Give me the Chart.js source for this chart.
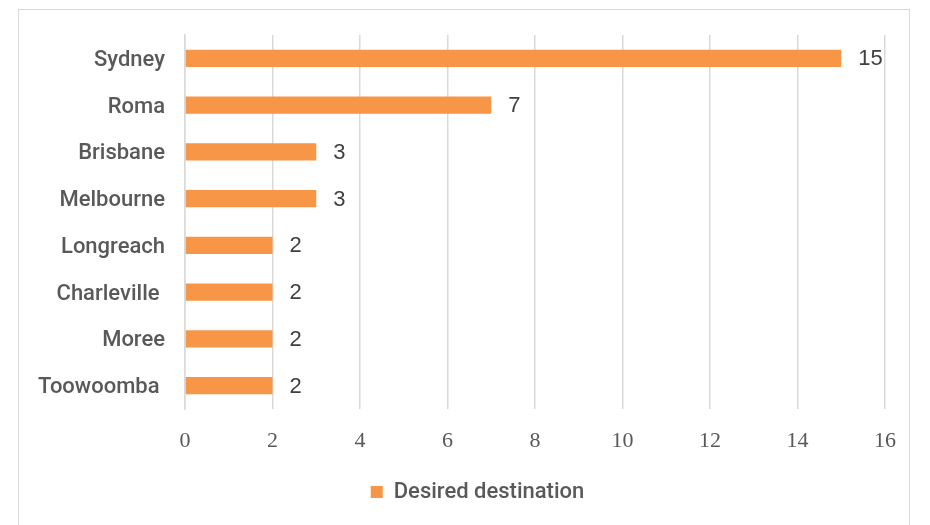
<!DOCTYPE html>
<html>
<head>
<meta charset="utf-8">
<script src="https://cdn.jsdelivr.net/npm/chart.js@4"></script>
<style>
html,body{margin:0;padding:0;background:#fff;}
#frame{position:absolute;left:18px;top:9px;width:892px;height:540px;border:1px solid #d9d9d9;box-sizing:border-box;}
#wrap{position:absolute;left:0;top:0;width:930px;height:525px;}
</style>
</head>
<body>
<div id="frame"></div>
<div id="wrap"><canvas id="c" width="930" height="525"></canvas></div>
<script>
const categories = ["Sydney","Roma","Brisbane","Melbourne","Longreach","Charleville ","Moree","Toowoomba "];
const values = [15,7,3,3,2,2,2,2];
const seriesName = "Desired destination";
const xTicks = [0,2,4,6,8,10,12,14,16];

const labelPlugin = {
  id: 'valueLabels',
  afterLayout(chart) {
    // centre the legend under the whole frame, as in the reference
    if (chart.legend) { chart.legend.left += 35; chart.legend.right += 35; }
  },
  afterDatasetsDraw(chart) {
    const ctx = chart.ctx;
    const meta = chart.getDatasetMeta(0);
    ctx.save();
    ctx.font = '22px "Liberation Sans", Arial, sans-serif';
    ctx.fillStyle = '#404040';
    ctx.textAlign = 'left';
    ctx.textBaseline = 'middle';
    meta.data.forEach((bar, i) => {
      ctx.fillText(String(values[i]), bar.x + 17, bar.y + 1);
    });
    ctx.restore();
  }
};

new Chart(document.getElementById('c'), {
  type: 'bar',
  data: {
    labels: categories,
    datasets: [{
      label: seriesName,
      data: values,
      backgroundColor: '#F79646',
      borderWidth: 0,
      categoryPercentage: 1,
      barPercentage: 0.37
    }]
  },
  options: {
    indexAxis: 'y',
    responsive: false,
    animation: false,
    layout: { padding: { top: 35, right: 45, left: 0, bottom: 12 } },
    plugins: {
      legend: {
        position: 'bottom',
        labels: {
          boxWidth: 12, boxHeight: 12,
          color: '#595959',
          font: { family: 'Roboto, "Liberation Sans", sans-serif', size: 22, weight: '500' },
          padding: 10
        }
      },
      tooltip: { enabled: false }
    },
    scales: {
      x: {
        min: 0, max: 16,
        afterBuildTicks(scale) { scale.ticks = xTicks.map(v => ({ value: v })); },
        grid: { color: '#d9d9d9', lineWidth: 1.5, drawTicks: false },
        border: { display: false },
        ticks: {
          color: '#595959',
          padding: 19,
          font: { family: '"Liberation Serif", serif', size: 22 }
        },
        afterFit(scale) { scale.height = 62; }
      },
      y: {
        grid: { display: false, drawTicks: false },
        border: { display: true, color: '#d9d9d9', width: 1.5 },
        ticks: {
          color: '#595959',
          padding: 20,
          labelOffset: 2,
          font: { family: 'Roboto, "Liberation Sans", sans-serif', size: 22, weight: '500' }
        },
        afterFit(scale) { scale.width = 185; }
      }
    }
  },
  plugins: [labelPlugin]
});
</script>
</body>
</html>
